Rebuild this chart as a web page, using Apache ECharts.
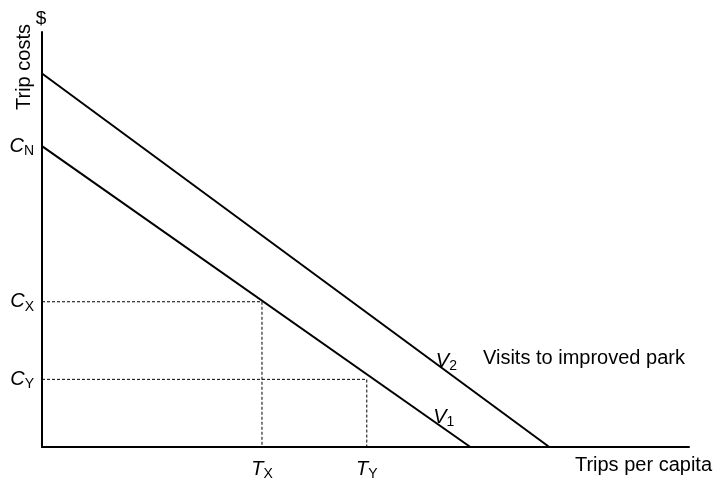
<!DOCTYPE html>
<html><head><meta charset="utf-8">
<script src="https://cdn.jsdelivr.net/npm/echarts@6/dist/echarts.min.js"></script>
<style>html,body{margin:0;padding:0;background:#fff}#c{width:714px;height:481px}</style>
</head><body><div id="c"></div>
<script>
// ---- data ----
const yTickValues = [16.3, 35.0, 72.5];       // C_Y, C_X, C_N
const yTickSubs   = ['Y', 'X', 'N'];
const xTickValues = [34.0, 50.2];             // T_X, T_Y
const xTickSubs   = ['X', 'Y'];
const v1Points = [[0, 72.5], [66.2, 0]];
const v2Points = [[0, 90.0], [78.4, 0]];
const v1LabelAt = [62.1, 7.2];
const v2LabelAt = [62.5, 20.6];
const axisNameY = 'Trip costs';
const axisUnitY = '$';
const axisNameX = 'Trips per capita';
const noteV2 = 'Visits to improved park';

const FF = '"Liberation Sans", Arial, Helvetica, sans-serif';
const rich = {
  c: { fontFamily: FF, fontSize: 20, fontStyle: 'italic', color: '#000' },
  s: { fontFamily: FF, fontSize: 14, color: '#000', padding: [10, 0, 0, 0] }
};
const dotted = { color: '#000', width: 1, type: [3, 2] };
function guide(tx, cy) { return [[0, cy], [tx, cy], [tx, 0]]; }
function lineLabel(at, sub) {
  return {
    type: 'scatter', data: [at], symbolSize: 1, silent: true,
    itemStyle: { color: 'rgba(0,0,0,0)', opacity: 1 },
    label: { show: true, position: 'inside', color: '#000', formatter: '{c|V}{s|' + sub + '}', rich: rich }
  };
}

const chart = echarts.init(document.getElementById('c'));
chart.setOption({
  animation: false,
  grid: { left: 42, right: 25, top: 32, bottom: 34 },
  xAxis: {
    type: 'value', min: 0, max: 100,
    splitLine: { show: false },
    axisLine: { lineStyle: { color: '#000', width: 2 } },
    axisTick: { show: false },
    axisLabel: {
      customValues: xTickValues, margin: 10,
      formatter: v => '{c|T}{s|' + xTickSubs[xTickValues.indexOf(v)] + '}',
      rich: rich
    }
  },
  yAxis: {
    type: 'value', min: 0, max: 100,
    splitLine: { show: false },
    axisLine: { show: true, lineStyle: { color: '#000', width: 2 } },
    axisTick: { show: false },
    axisLabel: {
      customValues: yTickValues, margin: 8,
      formatter: v => '{c|C}{s|' + yTickSubs[yTickValues.indexOf(v)] + '}',
      rich: rich
    }
  },
  series: [
    { type: 'line', data: guide(xTickValues[0], yTickValues[1]), symbol: 'none', lineStyle: dotted, silent: true },
    { type: 'line', data: guide(xTickValues[1], yTickValues[0]), symbol: 'none', lineStyle: dotted, silent: true },
    { type: 'line', data: v1Points, symbol: 'none', lineStyle: { color: '#000', width: 2 } },
    { type: 'line', data: v2Points, symbol: 'none', lineStyle: { color: '#000', width: 2 } },
    lineLabel(v1LabelAt, '1'),
    lineLabel(v2LabelAt, '2')
  ],
  graphic: [
    { type: 'text', x: 24, y: 67, rotation: Math.PI / 2,
      style: { text: axisNameY, fontFamily: FF, fontSize: 20, fill: '#000', align: 'center', verticalAlign: 'middle' } },
    { type: 'text', x: 41, y: 19,
      style: { text: axisUnitY, fontFamily: FF, fontSize: 19, fill: '#000', align: 'center', verticalAlign: 'middle' } },
    { type: 'text', x: 712, y: 465,
      style: { text: axisNameX, fontFamily: FF, fontSize: 20, fill: '#000', align: 'right', verticalAlign: 'middle' } },
    { type: 'text', x: 483, y: 358,
      style: { text: noteV2, fontFamily: FF, fontSize: 20, fill: '#000', align: 'left', verticalAlign: 'middle' } }
  ]
});
</script></body></html>
